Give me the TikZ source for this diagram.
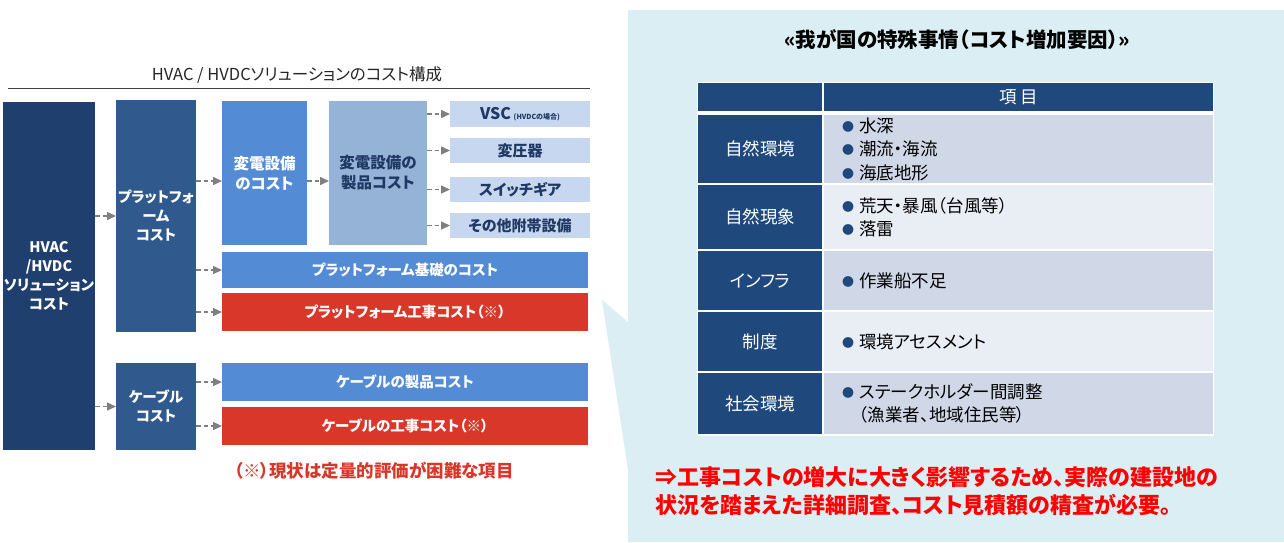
\documentclass[tikz,border=0pt]{standalone}
\usepackage{fontspec}
\setmainfont{Noto Sans CJK JP}[RawFeature=+palt]
\usetikzlibrary{arrows.meta, calc}
\definecolor{csol}{HTML}{1F3F6E}
\definecolor{cplat}{HTML}{305A8E}
\definecolor{cblue}{HTML}{538CD4}
\definecolor{cpale}{HTML}{95B3D7}
\definecolor{clight}{HTML}{C6D7EF}
\definecolor{cred}{HTML}{D9372A}
\definecolor{cink}{HTML}{1F3864}
\definecolor{carrow}{HTML}{7F7F7F}
\definecolor{cpanel}{HTML}{DAEEF3}
\definecolor{ctab}{HTML}{1F497D}
\definecolor{crowa}{HTML}{D0D8E8}
\definecolor{crowb}{HTML}{E9EDF4}
\newcommand{\bulitem}[1]{\makebox[17pt][l]{\raisebox{1pt}{\textcolor{ctab}{\fontsize{12}{12}\selectfont ●}}}#1}

\begin{document}
\begin{tikzpicture}[
    x=1pt, y=-1pt,
    sz/.style 2 args={minimum width=#1pt, minimum height=#2pt},
    box/.style={
        rectangle, inner sep=1pt, outer sep=0pt, align=center,
        text=white, font=\bfseries\fontsize{14.5}{19}\selectfont
    },
    solbox/.style={box, fill=csol},
    platbox/.style={box, fill=cplat},
    bluebox/.style={box, fill=cblue},
    prodbox/.style={box, fill=cpale, text=cink, font=\bfseries\fontsize{15.5}{20}\selectfont},
    partbox/.style={box, fill=clight, text=cink, font=\bfseries\fontsize{15}{18}\selectfont},
    redbox/.style={box, fill=cred},
    arr/.style={-{Triangle[length=9pt,width=8pt]}, draw=carrow, line width=1.5pt,
        dash pattern=on 4.5pt off 3pt},
    hcell/.style={rectangle, inner sep=0pt, outer sep=0pt, fill=ctab, text=white,
        font=\fontsize{17.5}{22}\selectfont},
    rcell/.style={rectangle, outer sep=0pt, inner xsep=18pt, inner ysep=0pt,
        text width=353pt, align=left, fill=#1,
        font=\fontsize{17.5}{23.5}\selectfont}
]
\useasboundingbox (0,0) rectangle (1284,542);

% callout panel
\fill[cpanel] (628,10) -- (1284,10) -- (1284,542) -- (628,542)
    -- (628,470) -- (602,300) -- (628,322) -- cycle;

% cost structure
\node[font=\fontsize{16.5}{18}\selectfont, text=black!85] (ttl) at (297,75)
    {HVAC / HVDCソリューションのコスト構成};
\draw[black!75, line width=1pt] (8,88) -- (590,88);

\node[solbox, sz={82}{348}] (sol) at (49,276) {HVAC\\/HVDC\\ソリューション\\コスト};
\node[platbox, sz={80}{232}] (plat) at (156,216) {プラットフォ\\ーム\\コスト};
\node[platbox, sz={80}{87}] (cable) at (156,406.5) {ケーブル\\コスト};
\node[bluebox, sz={85}{144}, font=\bfseries\fontsize{15.5}{20}\selectfont] (subst) at (264.5,173)
    {変電設備\\のコスト};
\node[prodbox, sz={98}{144}] (prod) at (378,173) {変電設備の\\製品コスト};

\node[partbox, sz={140}{26}] (vsc) at (520,114)
    {\fontsize{16}{18}\selectfont VSC\,\fontsize{7}{8}\selectfont (HVDCの場合)};
\node[partbox, sz={140}{25}] (trans) at (520,150.5) {変圧器};
\node[partbox, sz={140}{25}] (swg) at (520,189.5) {スイッチギア};
\node[partbox, sz={140}{25}] (misc) at (520,225.5) {その他附帯設備};

\node[bluebox, sz={366}{36}] (found) at (405,270) {プラットフォーム基礎のコスト};
\node[redbox, sz={366}{38}] (pcon) at (405,312) {プラットフォーム工事コスト（※）};
\node[bluebox, sz={366}{38}] (cprod) at (405,382) {ケーブルの製品コスト};
\node[redbox, sz={366}{38}] (ccon) at (405,426) {ケーブルの工事コスト（※）};

\node[text=cred, font=\bfseries\fontsize{17.5}{20}\selectfont] (note) at (374,471)
    {（※）現状は定量的評価が困難な項目};

\draw[arr] (sol.east |- plat) -- (plat.west);
\draw[arr] (sol.east |- cable) -- (cable.west);
\draw[arr] ($(plat.east |- subst.west)+(0,8)$) -- ($(subst.west)+(0,8)$);
\draw[arr] ($(subst.east)+(0,8)$) -- ($(prod.west)+(0,8)$);
\foreach \n in {vsc,trans,swg,misc}
  \draw[arr] (prod.east |- \n) -- (\n.west);
\foreach \n in {found,pcon}
  \draw[arr] (plat.east |- \n) -- (\n.west);
\foreach \n in {cprod,ccon}
  \draw[arr] (cable.east |- \n) -- (\n.west);

% special circumstances
\node[font=\bfseries\fontsize{20.5}{24}\selectfont] (ptitle) at (957,40)
    {«我が国の特殊事情（コスト増加要因）»};

\fill[white] (697,82) rectangle (1214,436);
\node[hcell, sz={124}{28}] (h0) at (760,97) {};
\node[hcell, sz={389}{28}] (h1) at (1018.5,97) {項\ 目};

\node[hcell, sz={124}{68}] (k1) at (760,149) {自然環境};
\node[hcell, sz={124}{64}] (k2) at (760,217) {自然現象};
\node[hcell, sz={124}{59}] (k3) at (760,280.5) {インフラ};
\node[hcell, sz={124}{59}] (k4) at (760,341.5) {制度};
\node[hcell, sz={124}{61}] (k5) at (760,403.5) {社会環境};

\node[rcell=crowa, minimum height=68pt] (v1) at (1018.5,149)
    {\bulitem{水深}\\\bulitem{潮流・海流}\\\bulitem{海底地形}};
\node[rcell=crowb, minimum height=64pt] (v2) at (1018.5,217)
    {\bulitem{荒天・暴風（台風等）}\\\bulitem{落雷}};
\node[rcell=crowa, minimum height=59pt] (v3) at (1018.5,280.5) {\bulitem{作業船不足}};
\node[rcell=crowb, minimum height=59pt] (v4) at (1018.5,341.5) {\bulitem{環境アセスメント}};
\node[rcell=crowa, minimum height=61pt] (v5) at (1018.5,403.5)
    {\bulitem{ステークホルダー間調整}\\\hspace*{17pt}（漁業者、地域住民等）};

\node[anchor=west, align=left, text=red, font=\bfseries\fontsize{22}{28}\selectfont] (concl)
    at (652,491) {⇒工事コストの増大に大きく影響するため、実際の建設地の\\
    状況を踏まえた詳細調査、コスト見積額の精査が必要。};
\end{tikzpicture}
\end{document}
